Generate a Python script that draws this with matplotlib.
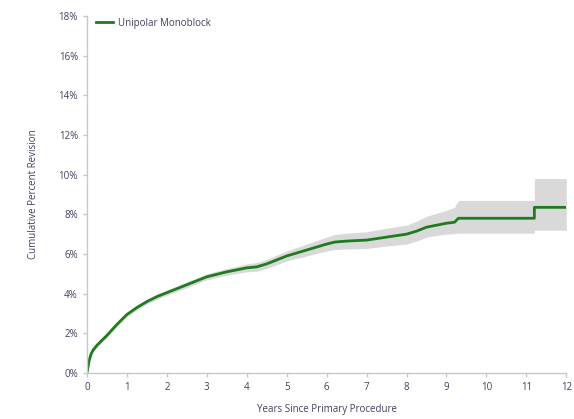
import matplotlib
matplotlib.use("Agg")
import matplotlib.pyplot as plt
import numpy as np

# Cumulative percent revision (fine steps drawn as a line)
years = [0, 0.05, 0.1, 0.15, 0.25, 0.5, 0.75, 1, 1.25, 1.5, 1.75, 2, 2.5, 3,
         3.5, 4, 4.25, 4.5, 5, 5.5, 6, 6.2, 6.5, 7, 7.5, 8, 8.25, 8.5, 8.75,
         9, 9.2, 9.25, 9.3, 11.2, 11.2, 12]
revision = [0, 0.6, 0.95, 1.15, 1.4, 1.9, 2.45, 2.95, 3.3, 3.6, 3.85, 4.05,
            4.45, 4.85, 5.1, 5.3, 5.35, 5.5, 5.9, 6.2, 6.5, 6.6, 6.65, 6.7,
            6.85, 7.0, 7.15, 7.35, 7.45, 7.55, 7.6, 7.7, 7.8, 7.8, 8.35, 8.35]
upper = [0, 0.7, 1.05, 1.25, 1.5, 2.0, 2.55, 3.05, 3.42, 3.72, 3.98, 4.18,
         4.6, 5.0, 5.27, 5.5, 5.57, 5.73, 6.15, 6.5, 6.85, 6.98, 7.05, 7.12,
         7.3, 7.45, 7.65, 7.9, 8.05, 8.2, 8.35, 8.55, 8.7, 8.7, 9.8, 9.8]
lower = [0, 0.5, 0.85, 1.05, 1.3, 1.8, 2.35, 2.85, 3.18, 3.48, 3.72, 3.92,
         4.3, 4.7, 4.93, 5.1, 5.13, 5.27, 5.65, 5.9, 6.15, 6.22, 6.25, 6.28,
         6.4, 6.5, 6.65, 6.85, 6.93, 7.0, 7.02, 7.04, 7.05, 7.05, 7.2, 7.2]

series_name = "Unipolar Monoblock"
x_ticks = list(range(0, 13))
y_ticks = list(range(0, 19, 2))

text_col = "#404060"
axis_col = "#c8c8c8"
line_col = "#1e7b1e"
band_col = "#d9d9d9"

plt.rcParams["font.family"] = ["Open Sans", "DejaVu Sans"]

fig = plt.figure(figsize=(5.74, 4.19), dpi=100)
ax = fig.add_axes([0.1516, 0.1098, 0.835, 0.8522])

ax.fill_between(years, lower, upper, color=band_col, lw=0)
ax.plot(years, revision, color=line_col, lw=2, label=series_name)

ax.set_xlim(0, 12)
ax.set_ylim(0, 18)
ax.set_xticks(x_ticks)
ax.set_yticks(y_ticks)
ax.set_yticklabels([f"{v}%" for v in y_ticks])

for s in ["top", "right"]:
    ax.spines[s].set_visible(False)
for s in ["left", "bottom"]:
    ax.spines[s].set_color(axis_col)
    ax.spines[s].set_linewidth(1)
ax.tick_params(colors=axis_col, labelcolor=text_col, labelsize=7, length=3,
               width=1)

ax.set_xlabel("Years Since Primary Procedure", fontsize=7, color=text_col,
              labelpad=8)
ax.set_ylabel("Cumulative Percent Revision", fontsize=7, color=text_col,
              labelpad=14)

ax.legend(loc="upper left", bbox_to_anchor=(0.0, 1.02), frameon=False,
          fontsize=7, handlelength=1.8, handletextpad=0.5,
          labelcolor=text_col)

fig.savefig("out.png", dpi=100)
